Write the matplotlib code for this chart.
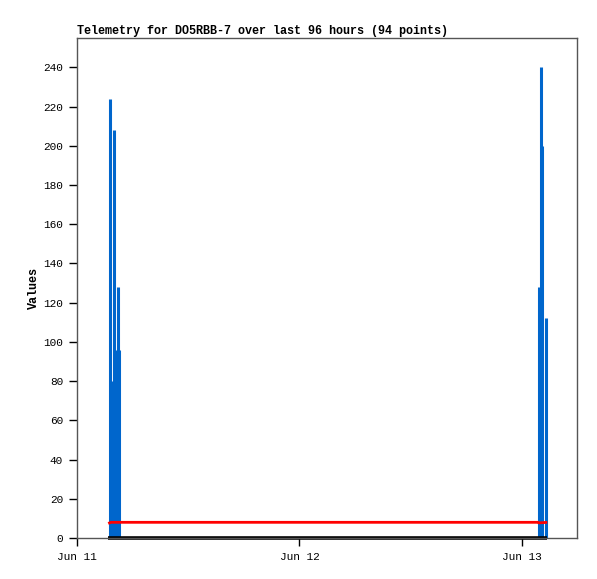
import datetime as dt

import matplotlib
matplotlib.use('Agg')

import matplotlib.pyplot as plt
import matplotlib.dates as mdates

# telemetry impulses (time, value)
bar_times = ['2024-06-11 03:34', '2024-06-11 03:53', '2024-06-11 04:02', '2024-06-11 04:11',
             '2024-06-11 04:19', '2024-06-11 04:27', '2024-06-11 04:32',
             '2024-06-13 01:50', '2024-06-13 02:03', '2024-06-13 02:10', '2024-06-13 02:36']
bar_values = [224, 80, 208, 80, 96, 128, 96, 128, 240, 200, 112]

# red line series
red_times = ['2024-06-11 03:22', '2024-06-11 03:40', '2024-06-13 01:45', '2024-06-13 01:50', '2024-06-13 02:45']
red_values = [7.4, 8.0, 8.0, 7.7, 8.0]

# black line series
zero_times = ['2024-06-11 03:22', '2024-06-13 02:45']
zero_values = [0, 0]

x_start = '2024-06-11 00:00'
x_end = '2024-06-13 05:57'

title = 'Telemetry for DO5RBB-7 over last 96 hours (94 points)'

def to_dt(values):
    return [dt.datetime.strptime(v, '%Y-%m-%d %H:%M') for v in values]

font = ['Liberation Mono', 'DejaVu Sans Mono']

fig = plt.figure(figsize=(5.97, 5.79), dpi=100)
ax = fig.add_axes([0.129, 0.0708, 0.8375, 0.8636])

ax.vlines(to_dt(bar_times), 0, bar_values, color='#0066cc', linewidth=2.2)
ax.plot(to_dt(zero_times), zero_values, color='black', linewidth=2.6, solid_capstyle='butt', clip_on=False)
ax.plot(to_dt(red_times), red_values, color='#ff0000', linewidth=2, solid_capstyle='butt')

ax.set_xlim(to_dt([x_start, x_end]))
ax.set_ylim(0, 255)
ax.set_yticks(range(0, 241, 20))
ax.xaxis.set_major_locator(mdates.DayLocator())
ax.xaxis.set_major_formatter(mdates.DateFormatter('%b %d'))

ax.tick_params(direction='out', length=6, width=1, labelsize=8, pad=4, top=False, right=False)
for lab in ax.get_xticklabels() + ax.get_yticklabels():
    lab.set_family(font)
for spine in ax.spines.values():
    spine.set_color('#555555')
    spine.set_linewidth(1)

ax.set_ylabel('Values', fontsize=8.5, fontweight='bold', family=font, labelpad=2)
ax.set_title(title, loc='left', fontsize=8.5, fontweight='bold', family=font, pad=3)

fig.savefig('out.png', dpi=100, facecolor='white')
